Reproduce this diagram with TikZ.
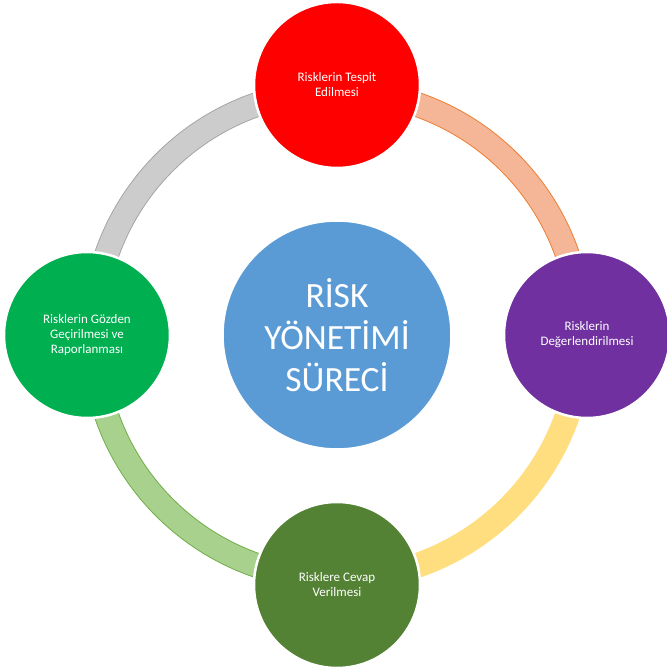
\documentclass[tikz,border=0pt]{standalone}
\usepackage{fontspec}
\setmainfont{Carlito}
\usepackage{tikz}
\usetikzlibrary{calc}

\definecolor{hubblue}{HTML}{5B9BD5}
\definecolor{stagered}{HTML}{FF0000}
\definecolor{stagepurple}{HTML}{7030A0}
\definecolor{stagedkgreen}{HTML}{548235}
\definecolor{stagegreen}{HTML}{00B050}
\definecolor{bandorange}{HTML}{F5B697}
\definecolor{lineorange}{HTML}{ED7D31}
\definecolor{bandyellow}{HTML}{FFDE80}
\definecolor{bandgreen}{HTML}{A9D18E}
\definecolor{linegreen}{HTML}{70AD47}
\definecolor{bandgray}{HTML}{CCCCCC}
\definecolor{linegray}{HTML}{A5A5A5}

\begin{document}
\begin{tikzpicture}[x=1pt, y=1pt, hubnode/.style={circle, fill=hubblue, draw=white, line width=1.5pt, minimum size=228pt, inner sep=0pt, text=white, align=center, font=\fontsize{35.5}{42}\selectfont}, stagenode/.style={circle, draw=white, line width=2.5pt, minimum size=166pt, inner sep=0pt, text=white, align=center, font=\fontsize{13}{15}\selectfont}, band/.style={line width=0.8pt}]
			\useasboundingbox (-337,-333) rectangle (329,335);
			\node (hub) at (0,0) {};

			% halkalar
			\draw[band, fill=bandorange, draw=lineorange] (71:256) arc (71:19:256) -- (19:232) arc (19:71:232) -- cycle;
			\draw[band, fill=bandyellow, draw=bandyellow] (-19:256) arc (-19:-71:256) -- (-71:232) arc (-71:-19:232) -- cycle;
			\draw[band, fill=bandgreen, draw=linegreen] (-109:256) arc (-109:-161:256) -- (-161:232) arc (-161:-109:232) -- cycle;
			\draw[band, fill=bandgray, draw=linegray] (161:256) arc (161:109:256) -- (109:232) arc (109:161:232) -- cycle;

			\node[hubnode] (surec) at (hub) {RİSK\\YÖNETİMİ\\SÜRECİ};

			\node[stagenode, fill=stagered] (tespit) at ($(hub)+(90:250)$) {Risklerin Tespit\\Edilmesi};
			\node[stagenode, fill=stagepurple] (deger) at ($(hub)+(0:250)$) {Risklerin\\Değerlendirilmesi};
			\node[stagenode, fill=stagedkgreen] (cevap) at ($(hub)+(270:250)$) {Risklere Cevap\\Verilmesi};
			\node[stagenode, fill=stagegreen] (gozden) at ($(hub)+(180:250)$) {Risklerin Gözden\\Geçirilmesi ve\\Raporlanması};

		\end{tikzpicture}
\end{document}
